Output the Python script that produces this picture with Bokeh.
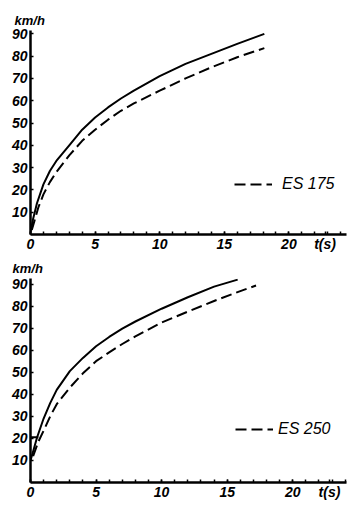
from bokeh.plotting import figure
from bokeh.layouts import column
from bokeh.models import FixedTicker, Legend, LegendItem, Range1d
from bokeh.embed import file_html
from bokeh.resources import INLINE

# ---- data ----
top_solid_t = [0, 0.2, 0.5, 1, 1.5, 2, 2.5, 3, 4, 5, 6, 7, 8, 10, 12, 14, 16, 18.1]
top_solid_v = [1, 7, 14, 22.5, 28.5, 33, 36.5, 40, 47, 52.5, 57, 61, 64.5, 71, 76.5, 81, 85.5, 90]
top_dash_t = [0.1, 0.3, 0.6, 1, 1.5, 2, 3, 4, 5, 6, 7, 8, 10, 12, 14, 16, 18.1]
top_dash_v = [2, 6, 12, 18, 23.5, 28, 35.5, 42, 47, 51.5, 55.5, 58.8, 64.5, 70, 75, 79.5, 83.6]

bot_solid_t = [0, 0.15, 0.5, 1, 1.5, 2, 3, 4, 5, 6, 7, 8, 10, 12, 14, 15.8]
bot_solid_v = [10, 13, 20.4, 29, 36, 42, 50.5, 56.5, 61.8, 66, 69.8, 73, 78.8, 84, 88.8, 92]
bot_dash_t = [0.2, 0.6, 1, 1.5, 2, 3, 4, 5, 6, 7, 8, 10, 12, 14, 16, 17.2]
bot_dash_v = [12, 18.5, 23.5, 30, 35.5, 43, 49.5, 55, 59, 62.8, 66.3, 72.5, 77.5, 82.3, 86.8, 89.3]
bot_step_t = [0, 0.6]
bot_step_v = [20.5, 20.5]

x_ticks = [0, 5, 10, 15, 20]
x_minor = list(range(0, 25))
y_ticks = [10, 20, 30, 40, 50, 60, 70, 80, 90]
x_title_pos = 22.8
x_title = "t(s)"
y_title = "km/h"
labels = ["ES 175", "ES 250"]

FONT = "Liberation Sans"
DASH = "11 5"


def make_fig(h, left, right, top, bottom, xend, yend, title_off):
    p = figure(width=356, height=h, output_backend="svg", toolbar_location=None,
               x_range=Range1d(0, xend), y_range=Range1d(0, yend),
               min_border_left=left, min_border_right=right,
               min_border_top=top, min_border_bottom=bottom)
    p.outline_line_color = None
    p.xgrid.visible = False
    p.ygrid.visible = False
    p.background_fill_color = "white"
    p.border_fill_color = "white"

    p.title.text = y_title
    p.title.align = "left"
    p.title.offset = title_off
    p.title.standoff = 6
    p.title.text_font = FONT
    p.title.text_font_style = "bold italic"
    p.title.text_font_size = "13px"
    p.title.text_color = "black"

    xt = x_ticks + [x_title_pos]
    p.xaxis.ticker = FixedTicker(ticks=xt, minor_ticks=x_minor)
    p.xaxis.major_label_overrides = {x_title_pos: x_title}
    p.yaxis.ticker = FixedTicker(ticks=y_ticks, minor_ticks=[])
    for ax in (p.xaxis[0], p.yaxis[0]):
        ax.axis_line_width = 2.5
        ax.axis_line_color = "black"
        ax.major_tick_line_color = "black"
        ax.minor_tick_line_color = "black"
        ax.major_tick_line_width = 1.5
        ax.minor_tick_line_width = 1.5
        ax.major_tick_out = 0
        ax.minor_tick_out = 0
        ax.major_label_text_font = FONT
        ax.major_label_text_font_style = "bold italic"
        ax.major_label_text_font_size = "14px"
        ax.major_label_text_color = "black"
    p.xaxis.major_tick_in = 3
    p.xaxis.minor_tick_in = 3
    p.yaxis.major_tick_in = 3
    p.yaxis.minor_tick_in = 0
    p.xaxis.major_label_standoff = 1
    p.yaxis.major_label_standoff = 3
    return p


def add_legend(p, renderer, text, loc, standoff):
    leg = Legend(items=[LegendItem(label=text, renderers=[renderer])], location=loc,
                 glyph_width=38, glyph_height=20, label_height=20,
                 label_standoff=standoff, padding=0, margin=0, spacing=0,
                 background_fill_alpha=0, border_line_color=None,
                 label_text_font=FONT, label_text_font_style="italic",
                 label_text_font_size="16px", label_text_color="black")
    p.add_layout(leg)


p1 = make_fig(254, 28, 10, 30, 20, 24.46, 91.5, -16)
p1.line(top_solid_t, top_solid_v, line_color="black", line_width=2)
d1 = p1.line(top_dash_t, top_dash_v, line_color="black", line_width=2, line_dash=DASH)
add_legend(p1, d1, labels[0], (204, 40), 10)

p2 = make_fig(254, 30, 8, 24, 26, 24.1, 92.5, -18)
p2.line(bot_solid_t, bot_solid_v, line_color="black", line_width=2)
d2 = p2.line(bot_dash_t, bot_dash_v, line_color="black", line_width=2, line_dash=DASH)
p2.line(bot_step_t, bot_step_v, line_color="black", line_width=2)
add_legend(p2, d2, labels[1], (205, 43), 5)

layout = column(p1, p2, spacing=0)
open("out.html", "w").write(file_html(layout, INLINE))
